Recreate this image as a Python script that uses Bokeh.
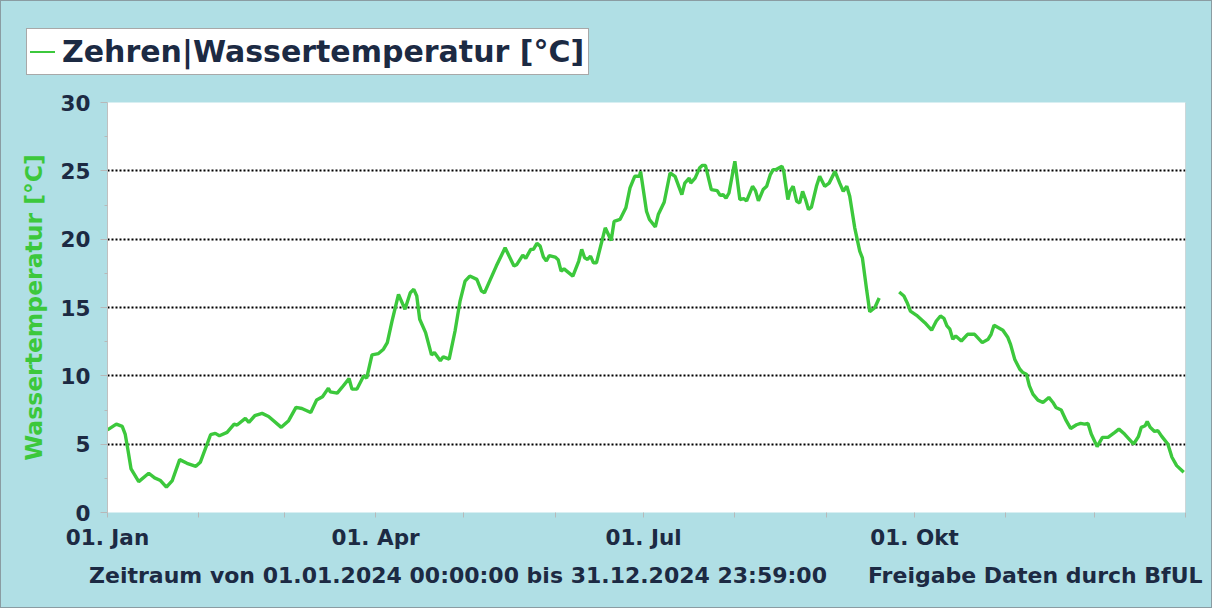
from bokeh.plotting import figure
from bokeh.layouts import column
from bokeh.models import (FixedTicker, Span, ColumnDataSource, LinearAxis, Div)
from bokeh.embed import file_html
from bokeh.resources import INLINE

# ---- data: day offset from 01.01.2024, water temperature [°C] ----
days = [0, 3, 5, 6, 7, 8, 10.6, 14, 16, 18, 20, 22, 24.5, 27, 30, 31.5, 35, 36.6, 38, 40.6,
        43, 44, 46.8, 48, 50, 52.5, 54.7, 59, 61.5, 64, 66, 69, 71, 73, 75, 75.6, 78, 79.6,
        82, 83, 84.7, 87, 88, 89.8, 92, 93.7, 95, 96.6, 98.8, 101, 102.8, 104, 105, 106, 108,
        110, 111, 113, 114, 116, 118, 119.7, 121.4, 123, 125.4, 127, 128, 130, 132, 135,
        138, 139, 141, 142, 143.7, 144.6, 145.8, 146.9, 148, 149, 150, 152, 153, 154, 155,
        158, 160, 161, 162, 163, 164, 165, 166, 169, 171, 172, 174, 176, 177.4, 179, 180.6,
        181, 183, 184, 186, 187, 189, 191, 192.7, 195, 196, 197.5, 198, 199.5, 201, 202, 203,
        205, 207, 208, 209, 210, 211, 213, 214.7, 216, 217, 219, 220, 221, 222.6, 223.8, 225,
        226, 227, 229, 229.6, 231, 231.7, 232.8, 234, 235, 236, 237, 238, 239, 240.7, 241.8,
        243.5, 245, 247, 248.6, 249.8, 251, 252, 253.7, 255.4, 256.3, 257.8, 258.8, 260.5,
        262, 265, 268.8, 270.4, 271.5, 272.6, 274.7, 277.5, 279.8, 281.4, 282.8, 284, 285,
        286, 287, 288, 289.9, 292, 294.4, 297, 299, 300, 301, 304, 305.7, 306.6, 308, 309.7,
        310.8, 312, 313, 314.2, 315.9, 317.6, 319.6, 321, 322, 323.8, 325.5, 327, 329, 330.4,
        331.7, 332.9, 334, 336, 337.8, 339.7, 342, 343.4, 345.3, 348.4, 350, 351, 352.3, 353,
        354, 355.5, 356.6, 358, 360, 361.4, 363, 365.4]
temps = [6.04, 6.47, 6.3, 5.74, 4.5, 3.19, 2.26, 2.87, 2.53, 2.34, 1.85, 2.34, 3.87, 3.6, 3.38,
         3.67, 5.69, 5.79, 5.62, 5.86, 6.47, 6.4, 6.89, 6.6, 7.08, 7.25, 7.03, 6.23, 6.72, 7.69,
         7.61, 7.32, 8.23, 8.47, 9.1, 8.83, 8.74, 9.15, 9.8, 9.03, 9.03, 10.0, 9.83, 11.53,
         11.63, 11.95, 12.43, 14.0, 15.96, 14.87, 16.08, 16.33, 15.84, 14.14, 13.16, 11.53,
         11.7, 11.1, 11.39, 11.22, 13.28, 15.47, 16.93, 17.3, 17.06, 16.2, 16.08, 17.06,
         18.03, 19.37, 18.03, 18.15, 18.83, 18.6, 19.25, 19.25, 19.69, 19.49, 18.69, 18.4,
         18.8, 18.69, 18.5, 17.66, 17.83, 17.3, 18.4, 19.25, 18.64, 18.52, 18.76, 18.27,
         18.27, 20.83, 19.9, 21.3, 21.44, 22.3, 23.75, 24.6, 24.6, 24.96, 22.04, 21.44, 20.9,
         21.8, 22.7, 24.84, 24.6, 23.26, 24.1, 24.47, 24.1, 24.47, 25.2, 25.4, 25.4, 23.63,
         23.55, 23.2, 23.26, 23.0, 23.38, 25.7, 22.9, 22.97, 22.8, 23.87, 23.55, 22.8, 23.63,
         23.87, 24.7, 25.09, 25.09, 25.33, 24.96, 22.9, 23.5, 23.87, 22.77, 22.65, 23.5, 22.9,
         22.17, 22.34, 23.87, 24.6, 23.87, 24.1, 24.96, 24.1, 23.5, 23.87, 23.14, 20.83,
         19.12, 18.63, 16.2, 14.69, 14.98, 15.7, float("nan"), 16.13, 15.84, 15.35, 14.74,
         14.43, 13.89, 13.34, 14.01, 14.38, 14.21, 13.65, 13.41, 12.68, 12.92, 12.55, 13.04,
         13.04, 12.43, 12.68, 13.04, 13.7, 13.34, 12.8, 12.3, 11.22, 10.5, 10.24, 10.12,
         9.27, 8.66, 8.22, 8.05, 8.42, 8.05, 7.69, 7.5, 6.72, 6.15, 6.42, 6.52, 6.47, 6.52,
         5.74, 4.82, 5.5, 5.5, 5.86, 6.1, 5.74, 5.01, 5.55, 6.23, 6.35, 6.66, 6.23, 5.93,
         5.99, 5.55, 5.01, 4.04, 3.43, 2.94]

month_starts = [0, 31, 60, 91, 121, 152, 182, 213, 244, 274, 305, 335, 366]
tick_labels = {0: "01. Jan", 91: "01. Apr", 182: "01. Jul", 274: "01. Okt"}
y_major = [0, 5, 10, 15, 20, 25, 30]
y_minor = [2.5, 7.5, 12.5, 17.5, 22.5, 27.5]

legend_label = "Zehren|Wassertemperatur [°C]"
y_label = "Wassertemperatur [°C]"
footer_left = "Zeitraum von 01.01.2024 00:00:00 bis 31.12.2024 23:59:00"
footer_right = "Freigabe Daten durch BfUL"

BG = "#b0dfe5"
NAVY = "#1c2a43"
GREEN = "#3cc83c"
FONT = "DejaVu Sans"

src = ColumnDataSource(data=dict(day=days, temp=temps))

# ---------------- header strip with the legend box ----------------
legend_html = (
    f'<div style="position:relative;width:1210px;height:86px;background-color:{BG};">'
    f'<div style="position:absolute;left:25px;top:27px;width:563px;height:47px;'
    f'background-color:#ffffff;border:1.5px solid #a8a8a8;display:flex;align-items:center;">'
    f'<div style="width:25px;height:0px;border-top:2px solid {GREEN};'
    f'margin-left:3px;margin-right:7px;flex:none;"></div>'
    f'<span style="font-family:\'{FONT}\';font-weight:bold;font-size:30px;color:{NAVY};'
    f'white-space:nowrap;line-height:1;">{legend_label}</span>'
    f'</div></div>'
)
hdr = Div(text=legend_html, width=1210, height=86, margin=0,
          styles={"background-color": BG})

# ---------------- main chart ----------------
p = figure(width=1210, height=520, x_range=(0, 366), y_range=(0, 30),
           output_backend="svg", toolbar_location=None, margin=0,
           min_border_left=106, min_border_right=26, min_border_top=15, min_border_bottom=95,
           background_fill_color="white", border_fill_color=BG, outline_line_color=None)

p.line("day", "temp", source=src, line_color=GREEN, line_width=3.4)

xa = p.xaxis[0]
xa.ticker = FixedTicker(ticks=month_starts)
xa.major_label_overrides = {m: tick_labels.get(m, "") for m in month_starts}
xa.axis_line_color = None
xa.major_tick_line_color = "#b8b8b8"
xa.major_tick_in = 0
xa.major_tick_out = 5
xa.minor_tick_line_color = None
xa.major_label_standoff = 7
xa.major_label_text_font = FONT
xa.major_label_text_font_style = "bold"
xa.major_label_text_font_size = "21.5px"
xa.major_label_text_color = NAVY

# footer line, placed through a second (label-only) x axis
foot_pos = [119, 315]
fa = LinearAxis(ticker=FixedTicker(ticks=foot_pos),
                major_label_overrides={foot_pos[0]: footer_left, foot_pos[1]: footer_right})
fa.axis_line_color = None
fa.major_tick_line_color = None
fa.minor_tick_line_color = None
fa.major_tick_in = 0
fa.major_tick_out = 0
fa.major_label_standoff = 10
fa.major_label_text_font = FONT
fa.major_label_text_font_style = "bold"
fa.major_label_text_font_size = "22px"
fa.major_label_text_color = NAVY
p.add_layout(fa, "below")

ya = p.yaxis[0]
ya.ticker = FixedTicker(ticks=y_major, minor_ticks=y_minor)
ya.axis_line_color = "#c0c0c0"
ya.major_tick_line_color = "#b8b8b8"
ya.minor_tick_line_color = "#b8b8b8"
ya.major_tick_in = 0
ya.major_tick_out = 7
ya.minor_tick_in = 0
ya.minor_tick_out = 3
ya.major_label_standoff = 10
ya.major_label_text_font = FONT
ya.major_label_text_font_style = "bold"
ya.major_label_text_font_size = "21.5px"
ya.major_label_text_color = NAVY
ya.axis_label = y_label
ya.axis_label_text_font = FONT
ya.axis_label_text_font_style = "bold"
ya.axis_label_text_font_size = "23.5px"
ya.axis_label_text_color = GREEN
ya.axis_label_standoff = 10

p.xgrid.grid_line_color = None
p.ygrid.grid_line_color = "black"
p.ygrid.grid_line_dash = "2 2"
p.ygrid.grid_line_width = 2

p.add_layout(Span(location=366, dimension="height", line_color="#c0c0c0", line_width=1))

page = column(hdr, p, spacing=0, margin=0)
page.styles = {"border": "1px solid #8a9ca2", "background-color": BG}

open("out.html", "w").write(file_html(page, INLINE))
